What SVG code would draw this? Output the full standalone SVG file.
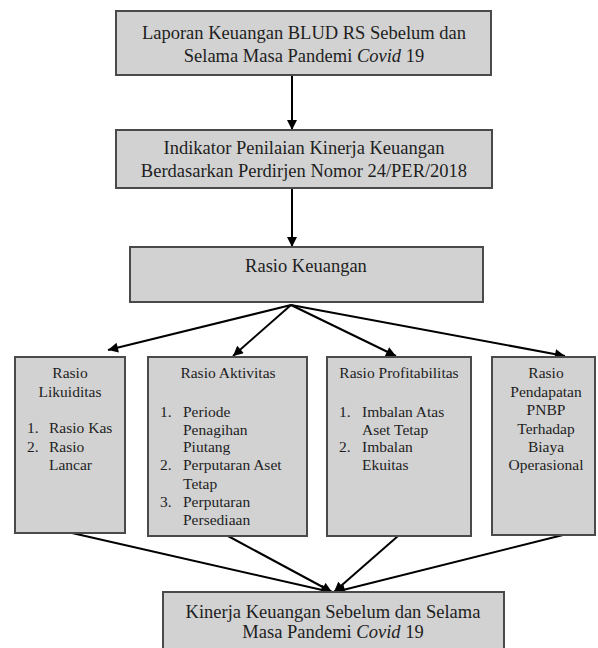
<svg xmlns="http://www.w3.org/2000/svg" width="598" height="648" viewBox="0 0 598 648">
<defs>
<style>
.box{fill:#d2d2d2;stroke:#4a4a4a;stroke-width:2}
text{font-family:"Liberation Serif","Times New Roman",Times,"Nimbus Roman","Noto Serif",FreeSerif,Tinos,serif;fill:#1e1e1e}
.big{font-size:18.5px;text-anchor:middle}
.sm{font-size:15.5px}
.c{text-anchor:middle}
.conn{stroke:#000;stroke-width:2;fill:none;marker-end:url(#ah)}
</style>
<marker id="ah" viewBox="0 0 10 10" refX="10" refY="5" markerWidth="6" markerHeight="5" orient="auto" markerUnits="strokeWidth">
<path d="M0,0 L10,5 L0,10 Z" fill="#000"/>
</marker>
</defs>
<rect width="598" height="648" fill="#fff"/>
<g id="connectors">
<line class="conn" x1="292" y1="75" x2="292" y2="130"/>
<line class="conn" x1="292" y1="188" x2="292" y2="247"/>
<line class="conn" x1="291" y1="305" x2="108" y2="350"/>
<line class="conn" x1="291" y1="305" x2="233" y2="356"/>
<line class="conn" x1="291" y1="305" x2="396" y2="356"/>
<line class="conn" x1="291" y1="305" x2="565" y2="356"/>
<line class="conn" x1="72" y1="533" x2="331" y2="592"/>
<line class="conn" x1="228" y1="536" x2="332" y2="592"/>
<line class="conn" x1="398" y1="536" x2="334" y2="592"/>
<line class="conn" x1="563" y1="535" x2="335" y2="592"/>
</g>
<g id="laporan">
<rect class="box" x="116" y="11" width="375" height="64"/>
<text class="big" x="304" y="39">Laporan Keuangan BLUD RS Sebelum dan</text>
<text class="big" x="304" y="62">Selama Masa Pandemi <tspan font-style="italic">Covid</tspan> 19</text>
</g>
<g id="indikator">
<rect class="box" x="116" y="130" width="376" height="58"/>
<text class="big" x="304" y="154">Indikator Penilaian Kinerja Keuangan</text>
<text class="big" x="304" y="177">Berdasarkan Perdirjen Nomor 24/PER/2018</text>
</g>
<g id="rasio-keuangan">
<rect class="box" x="130" y="247" width="353" height="55"/>
<text class="big" x="306" y="272">Rasio Keuangan</text>
</g>
<g id="likuiditas">
<rect class="box" x="15" y="357" width="110" height="176"/>
<text class="sm c" x="70" y="378">Rasio</text>
<text class="sm c" x="70" y="397">Likuiditas</text>
<text class="sm" x="27" y="433">1.</text><text class="sm" x="49" y="433">Rasio Kas</text>
<text class="sm" x="27" y="452">2.</text><text class="sm" x="49" y="452">Rasio</text>
<text class="sm" x="49" y="470">Lancar</text>
</g>
<g id="aktivitas">
<rect class="box" x="148" y="357" width="159" height="179"/>
<text class="sm c" x="228" y="378">Rasio Aktivitas</text>
<text class="sm" x="160" y="417">1.</text><text class="sm" x="183" y="417">Periode</text>
<text class="sm" x="183" y="435">Penagihan</text>
<text class="sm" x="183" y="452">Piutang</text>
<text class="sm" x="160" y="470">2.</text><text class="sm" x="183" y="470">Perputaran Aset</text>
<text class="sm" x="183" y="489">Tetap</text>
<text class="sm" x="160" y="507">3.</text><text class="sm" x="183" y="507">Perputaran</text>
<text class="sm" x="183" y="525">Persediaan</text>
</g>
<g id="profitabilitas">
<rect class="box" x="327" y="357" width="144" height="179"/>
<text class="sm c" x="399" y="378">Rasio Profitabilitas</text>
<text class="sm" x="339" y="417">1.</text><text class="sm" x="362" y="417">Imbalan Atas</text>
<text class="sm" x="362" y="435">Aset Tetap</text>
<text class="sm" x="339" y="452">2.</text><text class="sm" x="362" y="452">Imbalan</text>
<text class="sm" x="362" y="470">Ekuitas</text>
</g>
<g id="pendapatan">
<rect class="box" x="492" y="357" width="103" height="178"/>
<text class="sm c" x="546" y="378">Rasio</text>
<text class="sm c" x="546" y="397">Pendapatan</text>
<text class="sm c" x="546" y="415">PNBP</text>
<text class="sm c" x="546" y="434">Terhadap</text>
<text class="sm c" x="546" y="452">Biaya</text>
<text class="sm c" x="546" y="470">Operasional</text>
</g>
<g id="kinerja">
<rect class="box" x="163" y="592" width="341" height="60"/>
<text class="big" x="333" y="618">Kinerja Keuangan Sebelum dan Selama</text>
<text class="big" x="333" y="638">Masa Pandemi <tspan font-style="italic">Covid</tspan> 19</text>
</g>
</svg>
